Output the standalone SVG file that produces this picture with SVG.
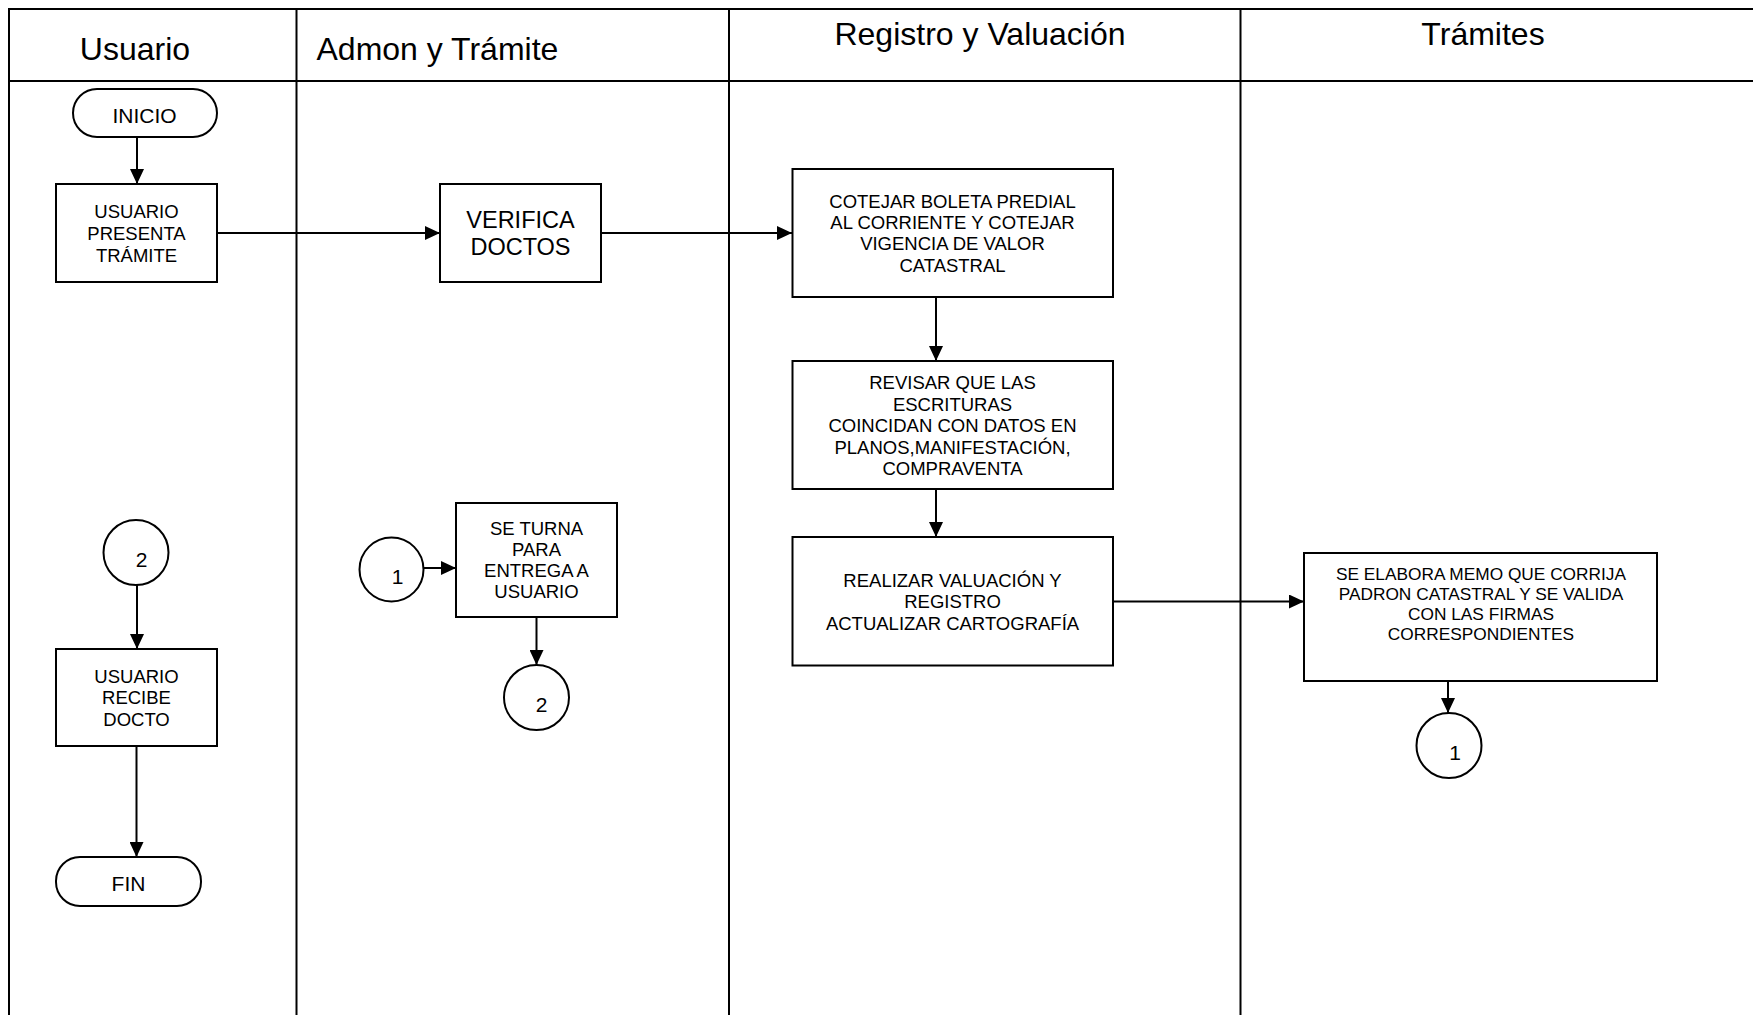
<svg xmlns="http://www.w3.org/2000/svg" width="1753" height="1015" viewBox="0 0 1753 1015">
<style>
text{font-family:"Liberation Sans",Arial,sans-serif;fill:#000;text-anchor:middle}
.hd{font-size:32px}
.bx{font-size:18.5px}
.sm{font-size:17.3px}
.big{font-size:23.5px}
.lb{font-size:21px}
.shape{fill:#fff;stroke:#000;stroke-width:2}
.lane{stroke:#000;stroke-width:2;fill:none}
.con{stroke:#000;stroke-width:2;fill:none}
</style>
<defs>
<marker id="ah" markerWidth="15" markerHeight="14" refX="15" refY="7" orient="auto" markerUnits="userSpaceOnUse">
<path d="M0,0 L15,7 L0,14 Z" fill="#000"/>
</marker>
</defs>
<rect width="1753" height="1015" fill="#fff"/>
<g id="lanes">
<line class="lane" x1="8" y1="9" x2="1753" y2="9"/>
<line class="lane" x1="8" y1="81" x2="1753" y2="81"/>
<line class="lane" x1="9" y1="8" x2="9" y2="1015"/>
<line class="lane" x1="296.5" y1="9" x2="296.5" y2="1015"/>
<line class="lane" x1="729" y1="9" x2="729" y2="1015"/>
<line class="lane" x1="1240.5" y1="9" x2="1240.5" y2="1015"/>
<text class="hd" x="135" y="60">Usuario</text>
<text class="hd" x="316.5" y="60" style="text-anchor:start">Admon y Trámite</text>
<text class="hd" x="980" y="45">Registro y Valuación</text>
<text class="hd" x="1483" y="45">Trámites</text>
</g>
<g id="connectors">
<line class="con" x1="137" y1="137" x2="137" y2="184" marker-end="url(#ah)"/>
<line class="con" x1="217" y1="233" x2="440" y2="233" marker-end="url(#ah)"/>
<line class="con" x1="601" y1="233" x2="792" y2="233" marker-end="url(#ah)"/>
<line class="con" x1="936" y1="297" x2="936" y2="361" marker-end="url(#ah)"/>
<line class="con" x1="936" y1="489" x2="936" y2="537" marker-end="url(#ah)"/>
<line class="con" x1="1113" y1="601.5" x2="1304" y2="601.5" marker-end="url(#ah)"/>
<line class="con" x1="1448" y1="681" x2="1448" y2="713" marker-end="url(#ah)"/>
<line class="con" x1="423" y1="568" x2="456" y2="568" marker-end="url(#ah)"/>
<line class="con" x1="536.5" y1="617" x2="536.5" y2="665" marker-end="url(#ah)"/>
<line class="con" x1="137" y1="585" x2="137" y2="649" marker-end="url(#ah)"/>
<line class="con" x1="136.5" y1="746" x2="136.5" y2="857" marker-end="url(#ah)"/>
</g>
<g id="inicio">
<rect class="shape" x="73" y="89" width="144" height="48" rx="24" ry="24"/>
<text class="lb" x="144.5" y="123">INICIO</text>
</g>
<g id="usuario-presenta">
<rect class="shape" x="56" y="184" width="161" height="98"/>
<text class="bx" x="136.5" y="218">USUARIO</text>
<text class="bx" x="136.5" y="240">PRESENTA</text>
<text class="bx" x="136.5" y="262">TRÁMITE</text>
</g>
<g id="verifica">
<rect class="shape" x="440" y="184" width="161" height="98"/>
<text class="big" x="520.5" y="228">VERIFICA</text>
<text class="big" x="520.5" y="255">DOCTOS</text>
</g>
<g id="cotejar">
<rect class="shape" x="792.5" y="169" width="320.5" height="128"/>
<text class="bx" x="952.5" y="208">COTEJAR BOLETA PREDIAL</text>
<text class="bx" x="952.5" y="229">AL CORRIENTE Y COTEJAR</text>
<text class="bx" x="952.5" y="250">VIGENCIA DE VALOR</text>
<text class="bx" x="952.5" y="272">CATASTRAL</text>
</g>
<g id="revisar">
<rect class="shape" x="792.5" y="361" width="320.5" height="128"/>
<text class="bx" x="952.5" y="389">REVISAR QUE LAS</text>
<text class="bx" x="952.5" y="411">ESCRITURAS</text>
<text class="bx" x="952.5" y="432">COINCIDAN CON DATOS EN</text>
<text class="bx" x="952.5" y="454">PLANOS,MANIFESTACIÓN,</text>
<text class="bx" x="952.5" y="475">COMPRAVENTA</text>
</g>
<g id="realizar">
<rect class="shape" x="792.5" y="537" width="320.5" height="128.5"/>
<text class="bx" x="952.5" y="587">REALIZAR VALUACIÓN Y</text>
<text class="bx" x="952.5" y="608">REGISTRO</text>
<text class="bx" x="952.5" y="630">ACTUALIZAR CARTOGRAFÍA</text>
</g>
<g id="se-elabora">
<rect class="shape" x="1304" y="553" width="353" height="128"/>
<text class="sm" x="1481" y="580">SE ELABORA MEMO QUE CORRIJA</text>
<text class="sm" x="1481" y="600">PADRON CATASTRAL Y SE VALIDA</text>
<text class="sm" x="1481" y="620">CON LAS FIRMAS</text>
<text class="sm" x="1481" y="640">CORRESPONDIENTES</text>
</g>
<g id="conector-1-tramites">
<circle class="shape" cx="1449" cy="745.5" r="32.5"/>
<text class="lb" x="1455" y="760">1</text>
</g>
<g id="conector-1-admon">
<circle class="shape" cx="391.5" cy="569.5" r="32"/>
<text class="lb" x="397.5" y="584">1</text>
</g>
<g id="se-turna">
<rect class="shape" x="456" y="503" width="161" height="114"/>
<text class="bx" x="536.5" y="535">SE TURNA</text>
<text class="bx" x="536.5" y="556">PARA</text>
<text class="bx" x="536.5" y="577">ENTREGA A</text>
<text class="bx" x="536.5" y="598">USUARIO</text>
</g>
<g id="conector-2-admon">
<circle class="shape" cx="536.5" cy="697.5" r="32.5"/>
<text class="lb" x="541.5" y="712">2</text>
</g>
<g id="conector-2-usuario">
<circle class="shape" cx="136" cy="552.5" r="32.5"/>
<text class="lb" x="141.5" y="567">2</text>
</g>
<g id="usuario-recibe">
<rect class="shape" x="56" y="649" width="161" height="97"/>
<text class="bx" x="136.5" y="683">USUARIO</text>
<text class="bx" x="136.5" y="704">RECIBE</text>
<text class="bx" x="136.5" y="726">DOCTO</text>
</g>
<g id="fin">
<rect class="shape" x="56" y="857" width="145" height="49" rx="24" ry="24"/>
<text class="lb" x="128.5" y="891">FIN</text>
</g>
</svg>
